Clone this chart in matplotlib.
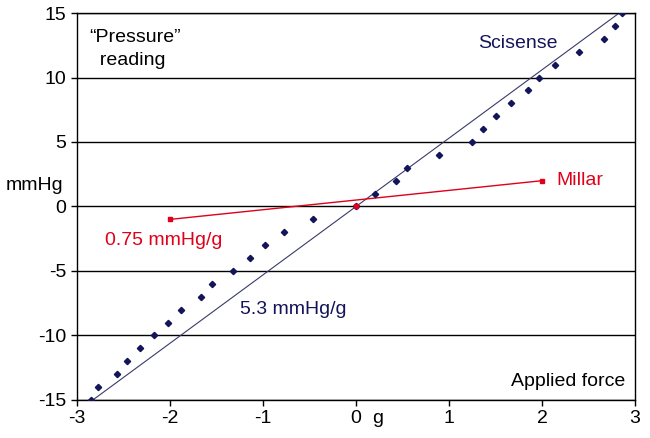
import numpy as np
import matplotlib
matplotlib.use("Agg")
import matplotlib.pyplot as plt

plt.rcParams['font.family'] = ['Liberation Sans', 'DejaVu Sans']
plt.rcParams['axes.unicode_minus'] = False  # 하이픈 마이너스

# Scisense 측정점 (applied force g, pressure reading mmHg)
scisense_x = [-2.85, -2.77, -2.57, -2.46, -2.32, -2.17, -2.02, -1.88, -1.67, -1.55,
              -1.32, -1.14, -0.98, -0.77, -0.46, 0.0, 0.20, 0.43, 0.55, 0.89,
              1.25, 1.36, 1.50, 1.67, 1.85, 1.97, 2.14, 2.40, 2.67, 2.78, 2.86]
scisense_y = [-15, -14, -13, -12, -11, -10, -9, -8, -7, -6,
              -5, -4, -3, -2, -1, 0, 1, 2, 3, 4,
              5, 6, 7, 8, 9, 10, 11, 12, 13, 14, 15]
scisense_slope = 5.3

# Millar 측정점
millar_x = [-2.0, 0.0, 2.0]
millar_y = [-1.0, 0.0, 2.0]

x_ticks = [-3, -2, -1, 0, 1, 2, 3]
y_ticks = [-15, -10, -5, 0, 5, 10, 15]

navy = '#14145a'
red = '#e0001b'

fig = plt.figure(figsize=(6.5, 4.38), dpi=100)
ax = fig.add_axes([0.1185, 0.0868, 0.8585, 0.8835])

# 회귀선 (기울기 5.3)
line_x = np.array([scisense_x[0], scisense_x[-1]])
ax.plot(line_x, scisense_slope * line_x, color='#3a3a6a', lw=0.8, zorder=2)
ax.plot(scisense_x, scisense_y, linestyle='none', marker='D', markersize=3.2,
        color=navy, zorder=3)

# Millar: 양 끝점을 잇는 선
ax.plot([millar_x[0], millar_x[-1]], [millar_y[0], millar_y[-1]], color=red, lw=1.0, zorder=2)
ax.plot(millar_x, millar_y, linestyle='none', marker='s', markersize=3.5, color=red, zorder=4)

ax.set_xlim(-3, 3)
ax.set_ylim(-15, 15)
ax.set_xticks(x_ticks)
ax.set_yticks(y_ticks)
ax.tick_params(labelsize=14, direction='out', length=4, width=1, color='black')
ax.yaxis.grid(True, color='black', lw=1)
ax.set_axisbelow(True)
for s in ax.spines.values():
    s.set_color('black')
    s.set_linewidth(1)

# 텍스트
ax.text(-2.87, 12.2, '\u201cPressure\u201d\n  reading', fontsize=14, va='center', ha='left',
        linespacing=1.45)
ax.text(1.74, 12.6, 'Scisense', fontsize=14, color=navy, ha='center', va='center')
ax.text(2.15, 2.0, 'Millar', fontsize=14, color=red, ha='left', va='center')
ax.text(-2.7, -2.6, '0.75 mmHg/g', fontsize=14, color=red, ha='left', va='center')
ax.text(-1.25, -8.0, '5.3 mmHg/g', fontsize=14, color=navy, ha='left', va='center')
ax.text(2.9, -13.6, 'Applied force', fontsize=14, ha='right', va='center')
ax.text(-0.025, 0.553, 'mmHg', fontsize=14, ha='right', va='center', transform=ax.transAxes)
ax.text(0.23, -15.75, 'g', fontsize=14, ha='center', va='top')

fig.savefig('out.png', dpi=100)
